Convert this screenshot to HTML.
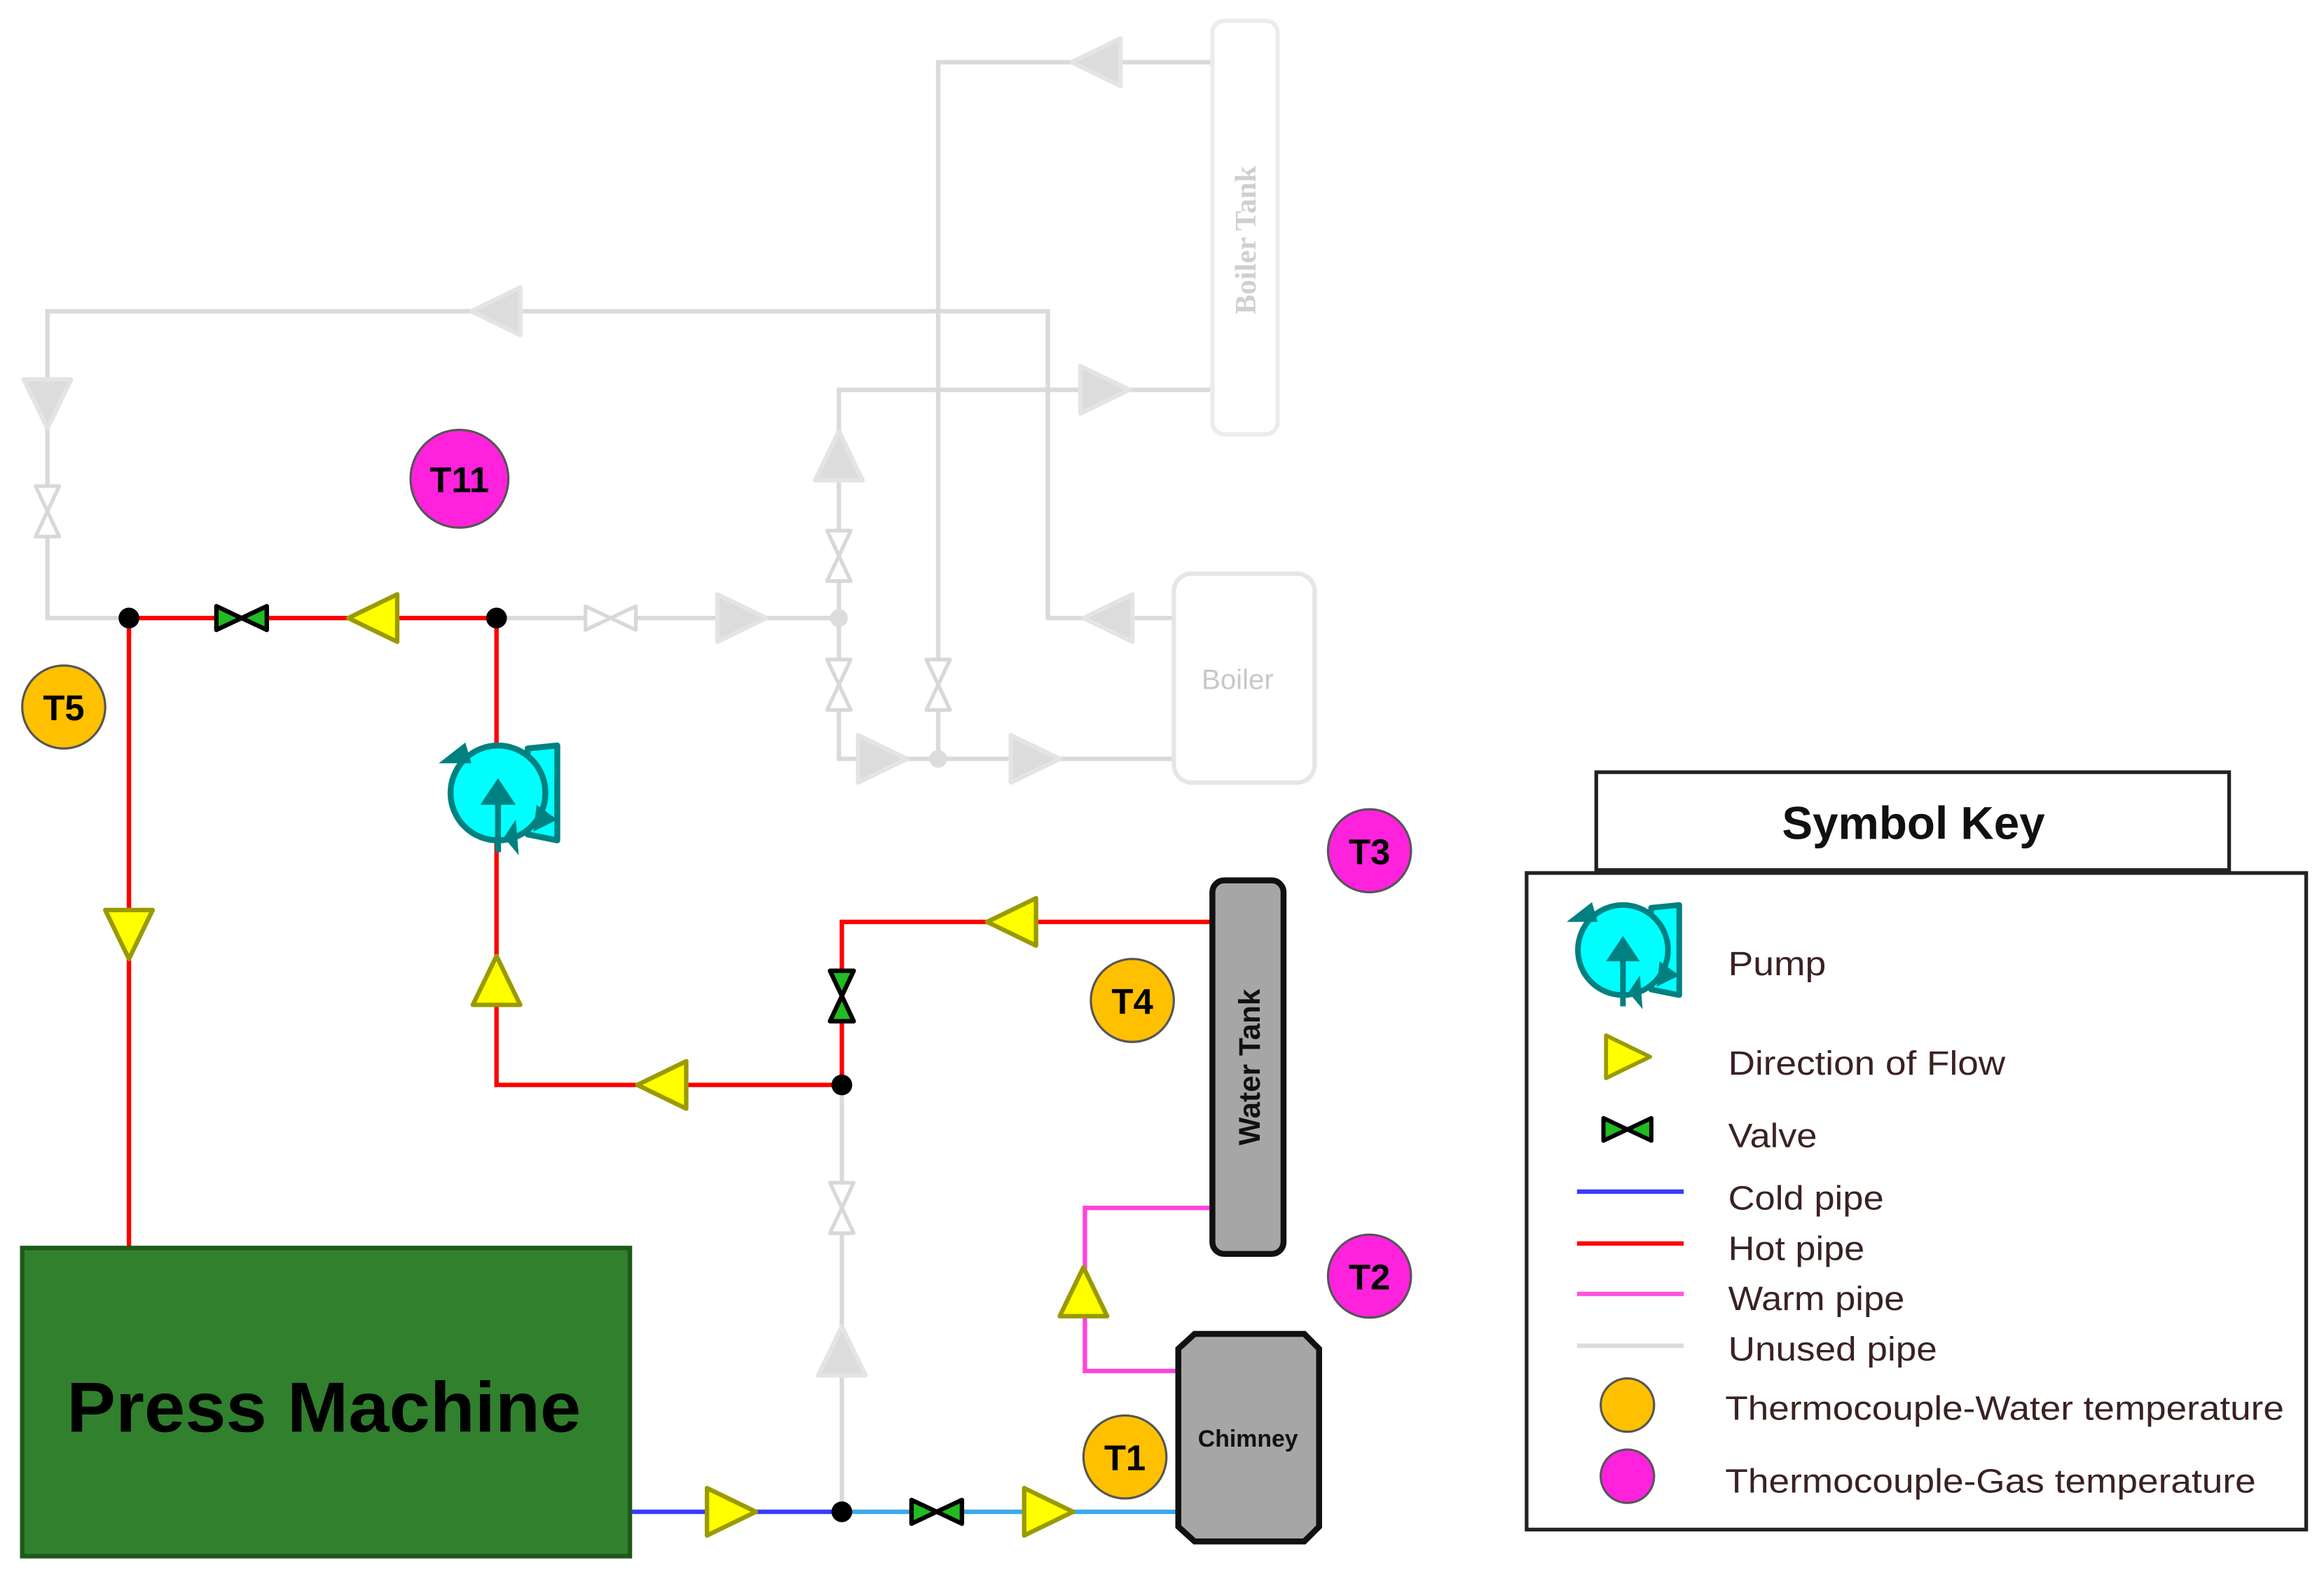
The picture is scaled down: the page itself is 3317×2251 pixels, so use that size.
<!DOCTYPE html>
<html><head><meta charset="utf-8"><style>
html,body{margin:0;padding:0;background:#fff;}
svg{display:block;}
text{font-family:"Liberation Sans",sans-serif;}
</style></head><body>
<svg width="3317" height="2251" viewBox="0 0 1568 1064" preserveAspectRatio="none" xmlns="http://www.w3.org/2000/svg">
<defs>
<polygon id="ay" points="-16,-16 17,0 -16,16" fill="#ffff00" stroke="#9a9a00" stroke-width="3" stroke-linejoin="round"/>
<polygon id="ag" points="-16,-16 17,0 -16,16" fill="#dcdcdc" stroke="#e4e4e4" stroke-width="3" stroke-linejoin="round"/>
<g id="vg"><polygon points="-17,-8 0,0 -17,8" fill="#22bb22" stroke="#000" stroke-width="3" stroke-linejoin="round"/><polygon points="17,-8 0,0 17,8" fill="#22bb22" stroke="#000" stroke-width="3" stroke-linejoin="round"/></g>
<g id="vu"><polygon points="-17,-8 0,0 -17,8" fill="#fff" stroke="#d8d8d8" stroke-width="2.5" stroke-linejoin="round"/><polygon points="17,-8 0,0 17,8" fill="#fff" stroke="#d8d8d8" stroke-width="2.5" stroke-linejoin="round"/></g>
<g id="pump">
<polygon points="20,-30 40,-32 40,32 20,28" fill="#00ffff" stroke="#008080" stroke-width="4" stroke-linejoin="round"/>
<circle r="32" fill="#00ffff" stroke="#008080" stroke-width="4"/>
<line x1="0" y1="40" x2="0" y2="0" stroke="#008080" stroke-width="4"/>
<polygon points="-12,8 0,-10 12,8" fill="#008080"/>
<polygon points="-40,-20 -22,-34 -18,-20" fill="#008080"/>
<polygon points="26,8 40,18 24,26" fill="#008080"/>
<polygon points="4,30 12,18 14,42" fill="#008080"/>
</g>
</defs>

<g fill="none" stroke="#dadada" stroke-width="3">
<polyline points="818,42 633,42 633,512"/>
<polyline points="792,417 707,417 707,210 32,210 32,417 87,417"/>
<polyline points="818,263 566,263 566,512 792,512"/>
<line x1="335" y1="417" x2="566" y2="417"/>
<line x1="568" y1="732" x2="568" y2="1020"/>
</g>
<rect x="818" y="14" width="44" height="279" rx="8" fill="#fff" stroke="#ececec" stroke-width="3"/>
<text transform="translate(847,162) rotate(-90)" text-anchor="middle" font-size="20" font-weight="bold" fill="#cfcfcf" style="font-family:'Liberation Serif',serif">Boiler Tank</text>
<rect x="792" y="387" width="95" height="141" rx="12" fill="#fff" stroke="#e6e6e6" stroke-width="3"/>
<text x="835" y="465" text-anchor="middle" font-size="19" fill="#c8c8c8">Boiler</text>
<use href="#ag" transform="translate(740,42) rotate(180)"/>
<use href="#ag" transform="translate(335,210) rotate(180)"/>
<use href="#ag" transform="translate(32,272) rotate(90)"/>
<use href="#ag" transform="translate(745,263)"/>
<use href="#ag" transform="translate(566,308) rotate(-90)"/>
<use href="#ag" transform="translate(748,417) rotate(180)"/>
<use href="#ag" transform="translate(500,417)"/>
<use href="#ag" transform="translate(595,512)"/>
<use href="#ag" transform="translate(698,512)"/>
<use href="#ag" transform="translate(568,912) rotate(-90)"/>
<use href="#vu" transform="translate(32,345) rotate(90)"/>
<use href="#vu" transform="translate(412,417)"/>
<use href="#vu" transform="translate(566,375) rotate(90)"/>
<use href="#vu" transform="translate(566,462) rotate(90)"/>
<use href="#vu" transform="translate(633,462) rotate(90)"/>
<use href="#vu" transform="translate(568,815) rotate(90)"/>
<circle cx="566" cy="417" r="6" fill="#dcdcdc"/>
<circle cx="633" cy="512" r="6" fill="#dcdcdc"/>

<g fill="none" stroke="#ff0000" stroke-width="3">
<line x1="87" y1="417" x2="335" y2="417"/>
<line x1="87" y1="417" x2="87" y2="842"/>
<polyline points="335,417 335,732 568,732"/>
<polyline points="568,732 568,622 818,622"/>
</g>
<polyline points="818,815 732,815 732,925 795,925" fill="none" stroke="#ff44dd" stroke-width="3"/>
<line x1="425" y1="1020" x2="568" y2="1020" stroke="#3a3aff" stroke-width="3"/>
<line x1="568" y1="1020" x2="795" y2="1020" stroke="#3aa8ee" stroke-width="3"/>

<use href="#vg" transform="translate(163,417)"/>
<use href="#vg" transform="translate(568,672) rotate(90)"/>
<use href="#vg" transform="translate(632,1020)"/>
<use href="#ay" transform="translate(252,417) rotate(180)"/>
<use href="#ay" transform="translate(87,630) rotate(90)"/>
<use href="#ay" transform="translate(335,662) rotate(-90)"/>
<use href="#ay" transform="translate(447,732) rotate(180)"/>
<use href="#ay" transform="translate(683,622) rotate(180)"/>
<use href="#ay" transform="translate(731,872) rotate(-90)"/>
<use href="#ay" transform="translate(493,1020)"/>
<use href="#ay" transform="translate(707,1020)"/>
<use href="#pump" transform="translate(336,535)"/>
<g fill="#000">
<circle cx="87" cy="417" r="7"/><circle cx="335" cy="417" r="7"/>
<circle cx="568" cy="732" r="7"/><circle cx="568" cy="1020" r="7"/>
</g>

<rect x="818" y="594" width="48" height="252" rx="8" fill="#a6a6a6" stroke="#111" stroke-width="4"/>
<text transform="translate(850,720) rotate(-90)" text-anchor="middle" font-size="20" font-weight="bold" fill="#111">Water Tank</text>
<polygon points="806,900 880,900 890,910 890,1030 880,1040 806,1040 795,1030 795,910" fill="#a6a6a6" stroke="#111" stroke-width="4"/>
<text x="842" y="976" text-anchor="middle" font-size="16" font-weight="bold" fill="#111">Chimney</text>
<rect x="15" y="842" width="410" height="208" fill="#31802e" stroke="#1d5a1a" stroke-width="3"/>
<text x="45" y="966" font-size="48" font-weight="bold" fill="#000" textLength="347" lengthAdjust="spacingAndGlyphs">Press Machine</text>

<g stroke="#555" stroke-width="1.5">
<circle cx="310" cy="323" r="33" fill="#ff22dd"/>
<circle cx="43" cy="477" r="28" fill="#ffc000"/>
<circle cx="924" cy="574" r="28" fill="#ff22dd"/>
<circle cx="764" cy="675" r="28" fill="#ffc000"/>
<circle cx="924" cy="861" r="28" fill="#ff22dd"/>
<circle cx="759" cy="983" r="28" fill="#ffc000"/>
</g>
<g font-weight="bold" font-size="24" text-anchor="middle" fill="#000">
<text x="310" y="332">T11</text>
<text x="43" y="486">T5</text>
<text x="924" y="583">T3</text>
<text x="764" y="684">T4</text>
<text x="924" y="870">T2</text>
<text x="759" y="992">T1</text>
</g>

<rect x="1077" y="521" width="427" height="66" fill="#fff" stroke="#222" stroke-width="2.5"/>
<text x="1291" y="566" text-anchor="middle" font-size="31" font-weight="bold" fill="#111">Symbol Key</text>
<rect x="1030" y="589" width="526" height="443" fill="#fff" stroke="#222" stroke-width="2.5"/>
<use href="#pump" transform="translate(1095,641) scale(0.95)"/>
<use href="#ay" transform="translate(1098,713) scale(0.9)"/>
<use href="#vg" transform="translate(1098,762) scale(0.95)"/>
<line x1="1064" y1="804" x2="1136" y2="804" stroke="#3a3aff" stroke-width="3"/>
<line x1="1064" y1="839" x2="1136" y2="839" stroke="#ff0000" stroke-width="3"/>
<line x1="1064" y1="873" x2="1136" y2="873" stroke="#ff55dd" stroke-width="3"/>
<line x1="1064" y1="908" x2="1136" y2="908" stroke="#dcdcdc" stroke-width="3"/>
<circle cx="1098" cy="948" r="18" fill="#ffc000" stroke="#555" stroke-width="1.5"/>
<circle cx="1098" cy="996" r="18" fill="#ff22dd" stroke="#555" stroke-width="1.5"/>
<g font-size="23" fill="#3a2222" lengthAdjust="spacingAndGlyphs">
<text x="1166" y="658" textLength="66" lengthAdjust="spacingAndGlyphs">Pump</text>
<text x="1166" y="725" textLength="187" lengthAdjust="spacingAndGlyphs">Direction of Flow</text>
<text x="1166" y="774" textLength="60" lengthAdjust="spacingAndGlyphs">Valve</text>
<text x="1166" y="816" textLength="105" lengthAdjust="spacingAndGlyphs">Cold pipe</text>
<text x="1166" y="850" textLength="92" lengthAdjust="spacingAndGlyphs">Hot pipe</text>
<text x="1166" y="884" textLength="119" lengthAdjust="spacingAndGlyphs">Warm pipe</text>
<text x="1166" y="918" textLength="141" lengthAdjust="spacingAndGlyphs">Unused pipe</text>
<text x="1164" y="958" textLength="377" lengthAdjust="spacingAndGlyphs">Thermocouple-Water temperature</text>
<text x="1164" y="1007" textLength="358" lengthAdjust="spacingAndGlyphs">Thermocouple-Gas temperature</text>
</g>
</svg>
</body></html>
